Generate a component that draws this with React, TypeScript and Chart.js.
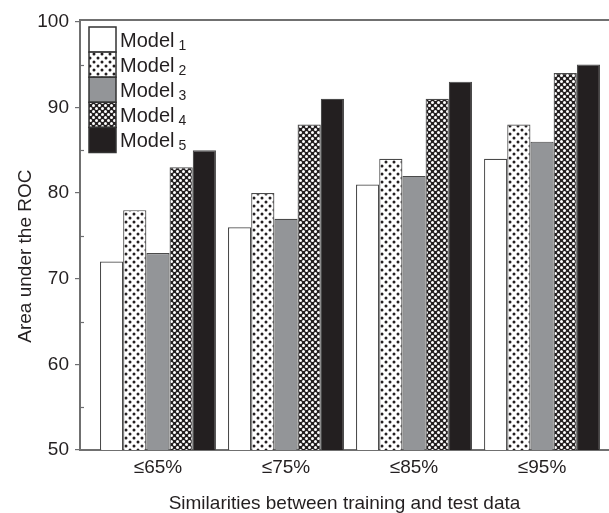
import React, { useEffect, useRef } from "react";
import { Chart, registerables } from "chart.js";

Chart.register(...registerables);

const categories = ["≤65%", "≤75%", "≤85%", "≤95%"];
const seriesNames = ["Model", "Model", "Model", "Model", "Model"];
const seriesSubs = ["1", "2", "3", "4", "5"];
const model1 = [72, 76, 81, 84];
const model2 = [78, 80, 84, 88];
const model3 = [73, 77, 82, 86];
const model4 = [83, 88, 91, 94];
const model5 = [85, 91, 93, 95];
const seriesValues = [model1, model2, model3, model4, model5];
const yTicksMajor = [50, 60, 70, 80, 90, 100];
const yTicksMinor = [55, 65, 75, 85, 95];

const FONT = "'Liberation Sans', Arial, sans-serif";

function makeDots(): CanvasPattern | string {
  const c = document.createElement("canvas");
  c.width = 8;
  c.height = 8;
  const g = c.getContext("2d")!;
  g.fillStyle = "#ffffff";
  g.fillRect(0, 0, 8, 8);
  g.fillStyle = "#231f20";
  g.beginPath();
  g.arc(2, 2, 1.5, 0, Math.PI * 2);
  g.closePath();
  g.moveTo(7.5, 6);
  g.arc(6, 6, 1.5, 0, Math.PI * 2);
  g.fill();
  return g.createPattern(c, "repeat") || "#ccc";
}

function makeCross(): CanvasPattern | string {
  const c = document.createElement("canvas");
  c.width = 6;
  c.height = 6;
  const g = c.getContext("2d")!;
  g.fillStyle = "#231f20";
  g.fillRect(0, 0, 6, 6);
  g.fillStyle = "#ffffff";
  g.beginPath();
  g.arc(1.5, 1.5, 1.5, 0, Math.PI * 2);
  g.closePath();
  g.moveTo(6, 4.5);
  g.arc(4.5, 4.5, 1.5, 0, Math.PI * 2);
  g.fill();
  return g.createPattern(c, "repeat") || "#555";
}

export default function App() {
  const ref = useRef<HTMLCanvasElement>(null);

  useEffect(() => {
    if (!ref.current) return;
    const fills = ["#ffffff", makeDots(), "#939598", makeCross(), "#231f20"];
    const datasets = seriesValues.map((vals, i) => ({
      label: seriesNames[i] + seriesSubs[i],
      data: vals.map((v, j) => ({ x: j, y: v })),
      backgroundColor: fills[i],
      borderColor: "#4a4a4a",
      borderWidth: 1.2,
      barPercentage: 1,
      categoryPercentage: 0.906,
    }));

    const minorTicks = {
      id: "minorTicks",
      afterDraw(chart: any) {
        const ctx = chart.ctx;
        const y = chart.scales.y;
        const left = chart.chartArea.left;
        ctx.save();
        ctx.strokeStyle = "#6d6e71";
        ctx.lineWidth = 1.2;
        yTicksMinor.forEach((v) => {
          const py = Math.round(y.getPixelForValue(v)) + 0.5;
          ctx.beginPath();
          ctx.moveTo(left, py);
          ctx.lineTo(left + 4, py);
          ctx.stroke();
        });
        ctx.restore();
      },
    };

    const legendPlugin = {
      id: "customLegend",
      afterDraw(chart: any) {
        const ctx = chart.ctx;
        const x0 = chart.chartArea.left + 9;
        const y0 = chart.chartArea.top + 7;
        const bw = 27;
        const bh = 25.1;
        ctx.save();
        chart.data.datasets.forEach((ds: any, i: number) => {
          const top = y0 + i * bh;
          ctx.fillStyle = ds.backgroundColor;
          ctx.fillRect(x0, top, bw, bh);
          ctx.strokeStyle = "#333333";
          ctx.lineWidth = 1.5;
          ctx.strokeRect(x0, top, bw, bh);
          const cy = top + bh / 2;
          ctx.fillStyle = "#231f20";
          ctx.font = `20px ${FONT}`;
          ctx.textBaseline = "alphabetic";
          ctx.textAlign = "left";
          const base = cy + 7;
          const tx = x0 + bw + 4;
          ctx.fillText(seriesNames[i], tx, base);
          const w = ctx.measureText(seriesNames[i]).width;
          ctx.font = `14px ${FONT}`;
          ctx.fillText(seriesSubs[i], tx + w + 4, base + 3);
        });
        ctx.restore();
      },
    };

    const chart = new Chart(ref.current, {
      type: "bar",
      data: { datasets: datasets as any },
      options: {
        animation: false,
        responsive: false,
        maintainAspectRatio: false,
        layout: { padding: { top: 12, right: 0, left: 0, bottom: 0 } },
        plugins: {
          legend: { display: false },
          tooltip: { enabled: false },
        },
        scales: {
          x: {
            type: "linear",
            position: "bottom",
            offset: false,
            min: -0.609,
            max: 3.523,
            afterFit: (s: any) => {
              s.height = 63;
              s.paddingLeft = 0;
              s.paddingRight = 0;
            },
            afterBuildTicks: (s: any) => {
              s.ticks = categories.map((_, i) => ({ value: i }));
            },
            grid: { display: false, offset: false },
            border: { display: true, color: "#707070", width: 2 },
            ticks: {
              autoSkip: false,
              maxRotation: 0,
              padding: -2,
              color: "#231f20",
              font: { family: FONT, size: 19 },
              callback: (v: any) => categories[Math.round(Number(v))] ?? "",
            },
            title: {
              display: true,
              text: "Similarities between training and test data",
              color: "#231f20",
              font: { family: FONT, size: 19 },
              padding: { top: 0, bottom: -2 },
            },
          },
          xTop: {
            type: "linear",
            position: "top",
            offset: false,
            min: -0.609,
            max: 3.523,
            afterFit: (s: any) => {
              s.height = 0;
              s.paddingLeft = 0;
              s.paddingRight = 0;
            },
            grid: { display: false, offset: false },
            ticks: { display: false },
            border: { display: true, color: "#707070", width: 2 },
          },
          y: {
            min: 50,
            max: 100.2,
            afterFit: (s: any) => {
              s.width = 72;
              s.paddingTop = 0;
              s.paddingBottom = 0;
            },
            afterBuildTicks: (s: any) => {
              s.ticks = yTicksMajor.map((v) => ({ value: v }));
            },
            grid: {
              display: true,
              drawOnChartArea: false,
              drawTicks: true,
              tickLength: 5,
              color: "#6d6e71",
              lineWidth: 1.2,
            },
            border: { display: true, color: "#707070", width: 2 },
            ticks: {
              autoSkip: false,
              padding: 6,
              color: "#231f20",
              font: { family: FONT, size: 19 },
              callback: (v: any) => String(v),
            },
            title: {
              display: true,
              text: "Area under the ROC\u00A0\u00A0\u00A0\u00A0\u00A0\u00A0\u00A0\u00A0",
              color: "#231f20",
              font: { family: FONT, size: 19 },
              padding: { top: 6, bottom: 0 },
            },
          },
        },
      },
      plugins: [minorTicks, legendPlugin],
    });
    return () => chart.destroy();
  }, []);

  return (
    <div style={{ position: "absolute", left: 8, top: 8, width: 601, height: 505 }}>
      <canvas ref={ref} width={601} height={505} style={{ display: "block", width: 601, height: 505 }} />
    </div>
  );
}
